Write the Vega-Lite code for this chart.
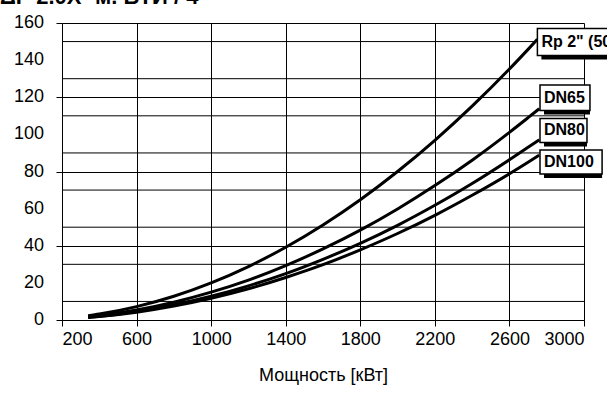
{
  "$schema": "https://vega.github.io/schema/vega-lite/v6.json",
  "width": 522,
  "height": 297,
  "autosize": {"type": "none"},
  "padding": {"left": 62, "top": 23, "right": 23, "bottom": 98},
  "background": "white",
  "config": {
    "view": {"stroke": null},
    "axis": {"labelFont": "Liberation Sans", "titleFont": "Liberation Sans", "labelColor": "#000", "titleColor": "#000", "labelFontSize": 18, "titleFontSize": 18, "titleFontWeight": "normal", "gridColor": "#000", "gridOpacity": 1, "gridWidth": 1, "domainColor": "#000", "domainWidth": 1, "tickColor": "#000", "tickWidth": 1}
  },
  "datasets": {
    "heading": [{"t": "ΔP 2.0X- м. БТИ / 4"}],
    "minor": [{"v": 10}, {"v": 30}, {"v": 50}, {"v": 70}, {"v": 90}, {"v": 110}, {"v": 130}, {"v": 150}],
    "ylab": [{"v": 0, "t": "0"}, {"v": 20, "t": "20"}, {"v": 40, "t": "40"}, {"v": 60, "t": "60"}, {"v": 80, "t": "80"}, {"v": 100, "t": "100"}, {"v": 120, "t": "120"}, {"v": 140, "t": "140"}, {"v": 160, "t": "160"}],
    "curves": [
      {"p": 340, "dp": 2.3, "s": "Rp"}, {"p": 400, "dp": 3.2, "s": "Rp"}, {"p": 600, "dp": 7.2, "s": "Rp"}, {"p": 800, "dp": 12.8, "s": "Rp"}, {"p": 1000, "dp": 20, "s": "Rp"}, {"p": 1200, "dp": 28.8, "s": "Rp"}, {"p": 1400, "dp": 39.2, "s": "Rp"}, {"p": 1600, "dp": 51.2, "s": "Rp"}, {"p": 1800, "dp": 64.8, "s": "Rp"}, {"p": 2000, "dp": 80, "s": "Rp"}, {"p": 2200, "dp": 96.8, "s": "Rp"}, {"p": 2400, "dp": 115.2, "s": "Rp"}, {"p": 2600, "dp": 135.2, "s": "Rp"}, {"p": 2700, "dp": 145.8, "s": "Rp"}, {"p": 2750, "dp": 151.2, "s": "Rp"},
      {"p": 340, "dp": 1.7, "s": "DN65"}, {"p": 400, "dp": 2.4, "s": "DN65"}, {"p": 600, "dp": 5.4, "s": "DN65"}, {"p": 800, "dp": 9.6, "s": "DN65"}, {"p": 1000, "dp": 15, "s": "DN65"}, {"p": 1200, "dp": 21.5, "s": "DN65"}, {"p": 1400, "dp": 29.3, "s": "DN65"}, {"p": 1600, "dp": 38.3, "s": "DN65"}, {"p": 1800, "dp": 48.4, "s": "DN65"}, {"p": 2000, "dp": 59.8, "s": "DN65"}, {"p": 2200, "dp": 72.4, "s": "DN65"}, {"p": 2400, "dp": 86.1, "s": "DN65"}, {"p": 2600, "dp": 101.1, "s": "DN65"}, {"p": 2700, "dp": 109, "s": "DN65"}, {"p": 2760, "dp": 113.8, "s": "DN65"},
      {"p": 340, "dp": 1.5, "s": "DN80"}, {"p": 400, "dp": 2.0, "s": "DN80"}, {"p": 600, "dp": 4.6, "s": "DN80"}, {"p": 800, "dp": 8.2, "s": "DN80"}, {"p": 1000, "dp": 12.8, "s": "DN80"}, {"p": 1200, "dp": 18.4, "s": "DN80"}, {"p": 1400, "dp": 25.0, "s": "DN80"}, {"p": 1600, "dp": 32.7, "s": "DN80"}, {"p": 1800, "dp": 41.3, "s": "DN80"}, {"p": 2000, "dp": 51.0, "s": "DN80"}, {"p": 2200, "dp": 61.8, "s": "DN80"}, {"p": 2400, "dp": 73.5, "s": "DN80"}, {"p": 2600, "dp": 86.3, "s": "DN80"}, {"p": 2700, "dp": 93, "s": "DN80"}, {"p": 2760, "dp": 97.1, "s": "DN80"},
      {"p": 340, "dp": 1.4, "s": "DN100"}, {"p": 400, "dp": 1.9, "s": "DN100"}, {"p": 600, "dp": 4.2, "s": "DN100"}, {"p": 800, "dp": 7.5, "s": "DN100"}, {"p": 1000, "dp": 11.7, "s": "DN100"}, {"p": 1200, "dp": 16.8, "s": "DN100"}, {"p": 1400, "dp": 22.9, "s": "DN100"}, {"p": 1600, "dp": 29.8, "s": "DN100"}, {"p": 1800, "dp": 37.8, "s": "DN100"}, {"p": 2000, "dp": 46.6, "s": "DN100"}, {"p": 2200, "dp": 56.4, "s": "DN100"}, {"p": 2400, "dp": 67.2, "s": "DN100"}, {"p": 2600, "dp": 78.8, "s": "DN100"}, {"p": 2700, "dp": 85, "s": "DN100"}, {"p": 2760, "dp": 88.8, "s": "DN100"}
    ],
    "labels": [
      {"name": "Rp 2\" (50)", "x1": 2750, "x2": 3500, "y1": 142.5, "y2": 157, "yc": 149.8},
      {"name": "DN65", "x1": 2764, "x2": 3032, "y1": 112.8, "y2": 126.6, "yc": 119.7},
      {"name": "DN80", "x1": 2764, "x2": 3016, "y1": 95.6, "y2": 108.6, "yc": 102.1},
      {"name": "DN100", "x1": 2764, "x2": 3097, "y1": 78.6, "y2": 91.6, "yc": 85.1}
    ]
  },
  "layer": [
    {
      "data": {"name": "minor"},
      "mark": {"type": "rule", "color": "#000", "strokeWidth": 1},
      "encoding": {"y": {"field": "v", "type": "quantitative"}}
    },
    {
      "data": {"name": "curves"},
      "mark": {"type": "line", "color": "#000", "strokeWidth": 3, "interpolate": "monotone"},
      "encoding": {
        "x": {"field": "p", "type": "quantitative", "scale": {"domain": [200, 3000], "nice": false, "zero": false},
              "axis": {"values": [200, 600, 1000, 1400, 1800, 2200, 2600, 3000], "format": "d", "title": "Мощность [кВт]", "titlePadding": 18, "labelPadding": 4, "tickSize": 6, "grid": true, "labelOverlap": false}},
        "y": {"field": "dp", "type": "quantitative", "scale": {"domain": [0, 160], "nice": false},
              "axis": {"values": [0, 20, 40, 60, 80, 100, 120, 140, 160], "labels": false, "title": null, "grid": true, "tickSize": 6}},
        "detail": {"field": "s"}
      }
    },
    {
      "data": {"name": "ylab"},
      "mark": {"type": "text", "align": "right", "baseline": "middle", "dx": -18, "font": "Liberation Sans", "fontSize": 18, "color": "#000"},
      "encoding": {"x": {"datum": 200, "type": "quantitative"}, "y": {"field": "v", "type": "quantitative"}, "text": {"field": "t"}}
    },
    {
      "data": {"name": "heading"},
      "mark": {"type": "text", "align": "left", "baseline": "alphabetic", "dx": -62, "dy": -19, "font": "Liberation Sans", "fontSize": 22, "fontWeight": "bold", "color": "#000"},
      "encoding": {"x": {"datum": 200, "type": "quantitative"}, "y": {"datum": 160, "type": "quantitative"}, "text": {"field": "t"}}
    },
    {
      "data": {"name": "labels"},
      "mark": {"type": "rect", "color": "#000", "xOffset": 4, "yOffset": 4},
      "encoding": {"x": {"field": "x1", "type": "quantitative"}, "x2": {"field": "x2"}, "y": {"field": "y1", "type": "quantitative"}, "y2": {"field": "y2"}}
    },
    {
      "data": {"name": "labels"},
      "mark": {"type": "rect", "fill": "#fff", "stroke": "#000", "strokeWidth": 1.5},
      "encoding": {"x": {"field": "x1", "type": "quantitative"}, "x2": {"field": "x2"}, "y": {"field": "y1", "type": "quantitative"}, "y2": {"field": "y2"}}
    },
    {
      "data": {"name": "labels"},
      "mark": {"type": "text", "align": "left", "baseline": "middle", "dx": 4, "font": "Liberation Sans", "fontSize": 16, "fontWeight": "bold", "color": "#000"},
      "encoding": {"x": {"field": "x1", "type": "quantitative"}, "y": {"field": "yc", "type": "quantitative"}, "text": {"field": "name"}}
    }
  ]
}
